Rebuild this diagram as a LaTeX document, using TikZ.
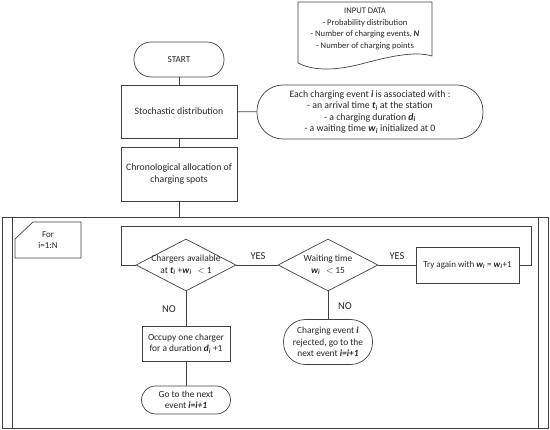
\documentclass[tikz,border=0pt]{standalone}
\usepackage{fontspec}
\setmainfont{Carlito}
\usetikzlibrary{shapes.geometric}
\newcommand\bvar[2]{\textbf{\textit{#1}}\textsubscript{\textbf{\textit{#2}}}}
\newcommand\bitx[1]{\textbf{\textit{#1}}}
\begin{document}
\begin{tikzpicture}[x=1pt,y=-1pt,line width=0.7pt,draw=black!75,
  every node/.style={text=black!85,font=\fontsize{9.8}{11.5}\selectfont},
  box/.style={draw=black!75,align=center,inner sep=0pt},
  dia/.style={draw=black!75,diamond,minimum width=100pt,minimum height=52pt,inner sep=0pt},
  yn/.style={font=\fontsize{10.5}{12}\selectfont},
  lbl/.style={align=center,font=\fontsize{9.4}{11.5}\selectfont}]
\useasboundingbox (0,0) rectangle (550,430);
% input data document
\draw (298,63) -- (298,2) -- (432,2) -- (432,56) .. controls (415,51) and (392,56) .. (365,63) .. controls (340,70) and (315,72) .. (298,63);
\node[align=center,font=\fontsize{8.6}{11.5}\selectfont] (input) at (365,29) {INPUT DATA\\- Probability distribution\\- Number of charging events, \bitx{N}\\- Number of charging points};
% top chain
\node[box,minimum width=90pt,minimum height=35pt,rounded corners=17pt,font=\fontsize{9.2}{11}\selectfont] (start) at (179,59.5) {START};
\node[box,minimum width=116pt,minimum height=53pt] (stoch) at (179,111.5) {Stochastic distribution};
\node[box,minimum width=226pt,minimum height=54pt,rounded corners=26pt] (each) at (370,112) {Each charging event \bitx{i} is associated with :\\- an arrival time \bvar{t}{i} at the station\\- a charging duration \bvar{d}{i}\\- a waiting time \bvar{w}{i} initialized at 0};
\node[box,minimum width=116pt,minimum height=54pt] (chrono) at (179,174) {Chronological allocation of\\charging spots};
\draw (start) -- (stoch);
\draw (stoch) -- (each);
\draw (stoch) -- (chrono);
% frame
\draw (2,217) rectangle (548,428);
\draw (12,217) -- (12,428);
\draw (538,217) -- (538,428);
\coordinate (ftop) at (179,217);
\draw (chrono) -- (ftop);
% for box
\draw (15,239) -- (33,222) -- (81,222) -- (81,258) -- (15,258) -- cycle;
\node[align=center,font=\fontsize{9}{11.5}\selectfont] (forlbl) at (48,240) {For\\i=1:N};
% decisions
\node[dia,label={[lbl]center:Chargers available\\at \bvar{t}{i} +\bvar{w}{i} \ \,{$<$} 1}] (d1) at (186,265) {};
\node[dia,label={[lbl]center:Waiting time\\\bvar{w}{i} \ \,{$<$} 15}] (d2) at (328,265) {};
\node[box,minimum width=103pt,minimum height=36pt,font=\fontsize{9}{11}\selectfont] (try) at (467.5,265) {Try again with \bvar{w}{i} = \bvar{w}{i}+1};
\node[box,minimum width=88pt,minimum height=35pt,font=\fontsize{9.4}{11.5}\selectfont] (occ) at (186,343.5) {Occupy one charger\\for a duration \bvar{d}{i} +1};
\node[box,minimum width=89pt,minimum height=28pt,rounded corners=14pt,font=\fontsize{9.4}{11.5}\selectfont] (next) at (186,400) {Go to the next\\event \bitx{i=i+1}};
\node[box,minimum width=89pt,minimum height=45pt,rounded corners=22pt,font=\fontsize{9.4}{11.5}\selectfont] (rej) at (328,342) {Charging event \bitx{i}\\rejected, go to the\\next event \bitx{i=i+1}};
\draw (d1) -- (d2);
\draw (d2) -- (try);
\draw (d1) -- (occ);
\draw (occ) -- (next);
\draw (d2) -- (rej);
\coordinate (lr) at (531,226);
\coordinate (ll) at (121,226);
\draw (try.east) -| (lr) -- (ll) |- (d1.west);
% labels
\node[yn] (yes1) at (258,256) {YES};
\node[yn] (yes2) at (397,256) {YES};
\node[yn] (no1) at (169,309) {NO};
\node[yn] (no2) at (345,306) {NO};
\end{tikzpicture}
\end{document}
